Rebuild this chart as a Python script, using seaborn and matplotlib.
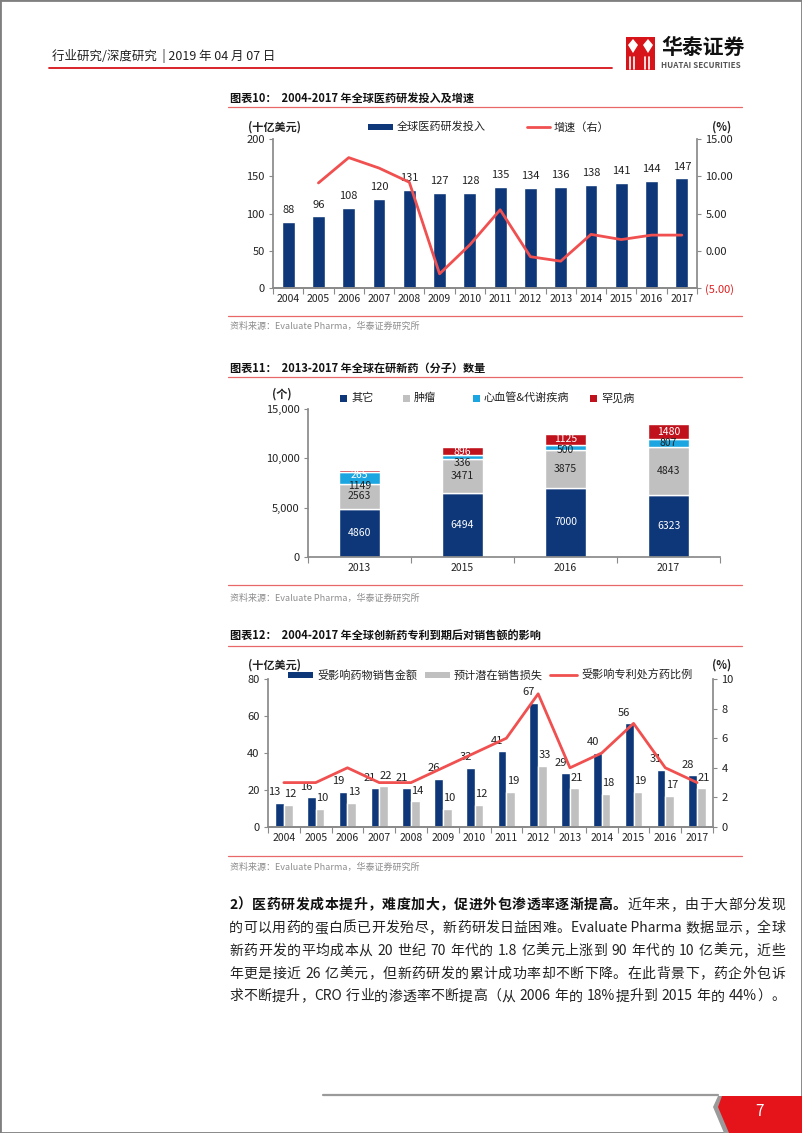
"""Huatai report page 7: global pharma R&D charts"""
import re

import matplotlib.pyplot as plt
import numpy as np
import pandas as pd
import seaborn as sns
from matplotlib.lines import Line2D
from matplotlib.patches import Polygon, Rectangle

# ---- data -------------------------------------------------------------
years = [str(y) for y in range(2004, 2018)]
rd_spend = [88, 96, 108, 120, 131, 127, 128, 135, 134, 136, 138, 141, 144, 147]
rd_growth = [np.nan, 9.1, 12.5, 11.1, 9.2, -3.1, 0.8, 5.5, -0.8, -1.4, 2.2, 1.5, 2.1, 2.1]

pipe_years = ["2013", "2015", "2016", "2017"]
pipe_other = [4860, 6494, 7000, 6323]
pipe_onco = [2563, 3471, 3875, 4843]
pipe_cardio = [1149, 336, 500, 807]
pipe_rare = [265, 896, 1125, 1480]
pipe_names = ["其它", "肿瘤", "心血管&代谢疾病", "罕见病"]

patent_sales = [13, 16, 19, 21, 21, 26, 32, 41, 67, 29, 40, 56, 31, 28]
patent_loss = [12, 10, 13, 22, 14, 10, 12, 19, 33, 21, 18, 19, 17, 21]
patent_share = [3, 3, 4, 3, 3, 4, 5, 6, 9, 4, 5, 7, 4, 3]
patent_names = ["受影响药物销售金额", "预计潜在销售损失", "受影响专利处方药比例"]

body_lead = "2）医药研发成本提升，难度加大，促进外包渗透率逐渐提高。"
body_lines = [
    "近年来，由于大部分发现",
    "的可以用药的蛋白质已开发殆尽，新药研发日益困难。Evaluate Pharma 数据显示，全球",
    "新药开发的平均成本从 20 世纪 70 年代的 1.8 亿美元上涨到 90 年代的 10 亿美元，近些",
    "年更是接近 26 亿美元，但新药研发的累计成功率却不断下降。在此背景下，药企外包诉",
    "求不断提升，CRO 行业的渗透率不断提高（从 2006 年的 18%提升到 2015 年的 44%）。",
]

NAVY = "#0d3779"
GRAY = "#c0c0c0"
CYAN = "#1ba6e1"
DARK_RED = "#c0121c"
LINE_RED = "#f0504f"
RULE_RED = "#e8686a"
SPINE = "#8a8a8a"
TXT = "#222222"

sns.set_theme(style="white")
plt.rcParams["font.family"] = ["Noto Sans CJK SC", "DejaVu Sans"]
plt.rcParams["axes.unicode_minus"] = False

W, H = 802, 1133
fig = plt.figure(figsize=(W / 100, H / 100), dpi=100)


def fx(x):
    return x / W


def fy(y):
    return 1 - y / H


def put(x, y, s, **kw):
    kw.setdefault("color", TXT)
    kw.setdefault("va", "center")
    return fig.text(fx(x), fy(y), s, **kw)


def hline(x0, x1, y, color, lw):
    fig.add_artist(Line2D([fx(x0), fx(x1)], [fy(y), fy(y)], color=color, lw=lw))


def px_axes(x0, y0, x1, y1):
    return fig.add_axes([fx(x0), fy(y1), (x1 - x0) / W, (y1 - y0) / H])


def leg_box(x, y, w, h, color, label):
    fig.add_artist(Rectangle((fx(x), fy(y + h / 2)), w / W, h / H,
                             transform=fig.transFigure, color=color, lw=0))
    put(x + w + 4, y, label, fontsize=8)


def leg_line(x, y, w, color, label):
    fig.add_artist(Line2D([fx(x), fx(x + w)], [fy(y), fy(y)], color=color, lw=2))
    put(x + w + 4, y, label, fontsize=8)


def style_axes(ax, right=False):
    for side in ["top", "right", "left", "bottom"]:
        ax.spines[side].set_visible(False)
    ax.spines["bottom"].set_visible(True)
    ax.spines["bottom"].set_color(SPINE)
    side = "right" if right else "left"
    ax.spines[side].set_visible(True)
    ax.spines[side].set_color(SPINE)
    ax.tick_params(axis="y", which="major", length=3, width=0.8, color=SPINE,
                   labelsize=8, labelcolor=TXT, direction="out",
                   left=not right, right=right, pad=3)
    ax.tick_params(axis="x", labelsize=7.5, labelcolor=TXT, length=0, pad=4)
    ax.set_xlabel("")
    ax.set_ylabel("")
    ax.grid(False)


def boundary_ticks(ax, n):
    ax.set_xticks(np.arange(-0.5, n, 1), minor=True)
    ax.tick_params(axis="x", which="minor", length=4, width=0.8, color=SPINE, bottom=True)
    ax.set_xlim(-0.5, n - 0.5)


def justify(y, parts, x0=229, x1=785, size=10):
    """Lay out (text, weight) parts token by token, spread to full width"""
    renderer = fig.canvas.get_renderer()
    items = []
    for text, weight in parts:
        for tok in re.findall(r"[A-Za-z0-9.%]+(?: [A-Za-z0-9.%]+)*| |.", text):
            if tok == " ":
                items.append((None, 3.5))
                continue
            t = put(x0, y, tok, fontsize=size, fontweight=weight, va="baseline",
                    color="#111111" if weight == "bold" else TXT)
            items.append((t, t.get_window_extent(renderer).width))
    total = sum(w for _, w in items)
    gap = (x1 - x0 - total) / max(len(items) - 1, 1)
    x = x0
    for t, w in items:
        if t is not None:
            t.set_x(fx(x))
        x += w + gap


# ---- page header / footer --------------------------------------------
fig.add_artist(Rectangle((0, 0), 1, 1, fill=False, edgecolor="#7f7f7f", lw=2,
                         transform=fig.transFigure))
put(52, 56, "行业研究/深度研究  | 2019 年 04 月 07 日", fontsize=9)
hline(49, 612, 68, "#d7141a", 1.3)

# logo
fig.add_artist(Rectangle((fx(626), fy(70)), 29 / W, 33 / H, color="#d7141a",
                         transform=fig.transFigure, lw=0))
for cx in [633, 648]:
    fig.add_artist(Polygon([(fx(cx - 5), fy(45)), (fx(cx), fy(39)), (fx(cx + 5), fy(45)),
                            (fx(cx), fy(53))], closed=True, color="white",
                           transform=fig.transFigure, lw=0))
for sx in [630, 634, 645, 649]:
    fig.add_artist(Line2D([fx(sx), fx(sx)], [fy(57), fy(69)], color="white", lw=1.2))
put(661, 47, "华泰证券", fontsize=15, fontweight="bold", color="#111111")
put(661, 65, "HUATAI SECURITIES", fontsize=5.8, fontweight="bold", color="#555555")

hline(323, 718, 1095, "#9a9a9a", 1.6)
fig.add_artist(Polygon([(fx(x), fy(y)) for x, y in
                        [(718, 1096), (802, 1096), (802, 1133), (724, 1133), (713, 1107)]],
                       closed=True, color="#9a9a9a", transform=fig.transFigure, lw=0))
fig.add_artist(Polygon([(fx(x), fy(y)) for x, y in
                        [(722, 1096), (802, 1096), (802, 1133), (729, 1133), (718, 1107)]],
                       closed=True, color="#e5141b", transform=fig.transFigure, lw=0))
put(760, 1112, "7", fontsize=11, color="white", ha="center")


def chart_frame(y_title, y_rule, title, y_src_rule, y_src):
    put(230, y_title, title, fontsize=8, fontweight="bold", color="#111111")
    hline(228, 742, y_rule, RULE_RED, 0.9)
    hline(228, 742, y_src_rule, RULE_RED, 0.9)
    put(230, y_src, "资料来源：Evaluate Pharma，华泰证券研究所", fontsize=6.5, color="#8c8c8c")


# ---- chart 10 --------------------------------------------------------
chart_frame(98, 107, "图表10：  2004-2017 年全球医药研发投入及增速", 316, 326)
ax1 = px_axes(273, 139, 697, 288)
sns.barplot(x=years, y=rd_spend, color=NAVY, width=0.42, saturation=1, ax=ax1)
ax1.bar_label(ax1.containers[0], fontsize=8, padding=5, color=TXT)
ax1.set_ylim(0, 200)
ax1.set_yticks(range(0, 201, 50))
style_axes(ax1)
ax1r = ax1.twinx()
sns.lineplot(x=np.arange(len(years)), y=rd_growth, color=LINE_RED, lw=2, ax=ax1r)
ax1r.set_ylim(-5, 15)
ax1r.set_yticks([-5, 0, 5, 10, 15])
ax1r.set_yticklabels(["(5.00)", "0.00", "5.00", "10.00", "15.00"])
style_axes(ax1r, right=True)
ax1r.get_yticklabels()[0].set_color("#e02020")
boundary_ticks(ax1, len(years))
put(248, 127, "(十亿美元)", fontsize=8, fontweight="bold")
put(712, 127, "(%)", fontsize=8, fontweight="bold")
leg_box(368, 127, 25, 6, NAVY, "全球医药研发投入")
leg_line(527, 127, 23, LINE_RED, "增速（右）")

# ---- chart 11 --------------------------------------------------------
chart_frame(368, 377, "图表11：  2013-2017 年全球在研新药（分子）数量", 585, 598)
ax2 = px_axes(308, 409, 720, 557)
ax2.set_ylim(0, 15000)
bottom = np.zeros(len(pipe_years))
stack = [(pipe_other, NAVY, "white"), (pipe_onco, GRAY, TXT),
         (pipe_cardio, CYAN, TXT), (pipe_rare, DARK_RED, "white")]
seg_labels, seg_mids = [], []
for vals, col, tcol in stack:
    sns.barplot(x=pipe_years, y=vals, bottom=bottom, color=col, width=0.39,
                saturation=1, ax=ax2)
    seg_labels.append(ax2.bar_label(ax2.containers[-1], label_type="center",
                                    fontsize=7.5, color=tcol))
    seg_mids.append(bottom + np.array(vals) / 2)
    bottom = bottom + np.array(vals)
ax2.set_ylim(0, 15000)


def to_px(v):
    return ax2.transData.transform((0, v))[1]


# thin top segments: keep the two top labels inside the bar and apart
for i in range(len(pipe_years)):
    y_rare = to_px(seg_mids[3][i])
    y_card = to_px(seg_mids[2][i])
    new_rare = min(y_rare, to_px(bottom[i]) - 5.5)
    new_card = min(y_card, new_rare - 10.5)
    seg_labels[3][i].xyann = (0, (new_rare - y_rare) * 0.72)
    seg_labels[2][i].xyann = (0, (new_card - y_card) * 0.72)
ax2.set_yticks(range(0, 15001, 5000))
ax2.set_yticklabels([f"{v:,}" for v in range(0, 15001, 5000)])
style_axes(ax2)
boundary_ticks(ax2, len(pipe_years))
put(272, 394, "(个)", fontsize=8, fontweight="bold")
for x, col, name in zip([340, 403, 473, 590], [NAVY, GRAY, CYAN, DARK_RED], pipe_names):
    leg_box(x, 398, 7, 7, col, name)

# ---- chart 12 --------------------------------------------------------
chart_frame(636, 646, "图表12：  2004-2017 年全球创新药专利到期后对销售额的影响", 856, 867)
ax3 = px_axes(268, 679, 713, 827)
df12 = pd.DataFrame({
    "year": years * 2,
    "value": patent_sales + patent_loss,
    "series": [patent_names[0]] * len(years) + [patent_names[1]] * len(years),
})
sns.barplot(data=df12, x="year", y="value", hue="series", palette=[NAVY, GRAY],
            width=0.55, saturation=1, legend=False, ax=ax3)
for cont, shift in zip(ax3.containers, [-3.5, 1.5]):
    for ann in ax3.bar_label(cont, fontsize=8, padding=4, color=TXT):
        ann.xyann = (ann.xyann[0] + shift, ann.xyann[1])
ax3.set_ylim(0, 80)
ax3.set_yticks(range(0, 81, 20))
style_axes(ax3)
ax3r = ax3.twinx()
sns.lineplot(x=np.arange(len(years)), y=patent_share, color=LINE_RED, lw=2, ax=ax3r)
ax3r.set_ylim(0, 10)
ax3r.set_yticks(range(0, 11, 2))
style_axes(ax3r, right=True)
boundary_ticks(ax3, len(years))
put(248, 665, "(十亿美元)", fontsize=8, fontweight="bold")
put(712, 665, "(%)", fontsize=8, fontweight="bold")
leg_box(288, 675, 25, 6, NAVY, patent_names[0])
leg_box(425, 675, 25, 6, GRAY, patent_names[1])
leg_line(550, 675, 27, LINE_RED, patent_names[2])

# ---- body text -------------------------------------------------------
justify(909, [(body_lead, "bold"), (body_lines[0], "normal")])
for i, s in enumerate(body_lines[1:]):
    justify(932 + 22.8 * i, [(s, "normal")])

fig.savefig("out.png", dpi=100)
